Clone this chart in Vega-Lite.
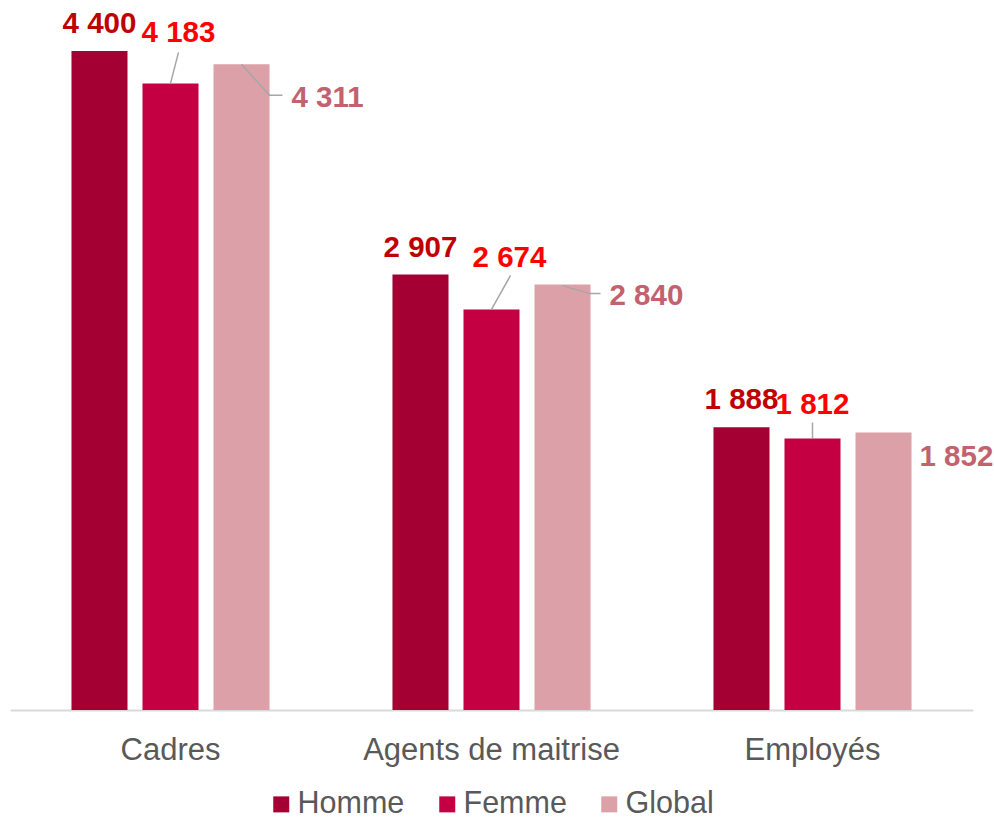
{
  "$schema": "https://vega.github.io/schema/vega-lite/v6.json",
  "autosize": "none",
  "width": 963,
  "height": 710,
  "padding": {"left": 10, "top": 0, "right": 21, "bottom": 112},
  "background": "white",
  "config": {
    "view": {"stroke": null},
    "font": "Liberation Sans",
    "locale": {"number": {"decimal": ",", "thousands": " ", "grouping": [3], "currency": ["", " €"]}}
  },
  "data": {
    "values": [
      {"cat": "Cadres", "serie": "Homme", "v": 4400},
      {"cat": "Cadres", "serie": "Femme", "v": 4183},
      {"cat": "Cadres", "serie": "Global", "v": 4311},
      {"cat": "Agents de maitrise", "serie": "Homme", "v": 2907},
      {"cat": "Agents de maitrise", "serie": "Femme", "v": 2674},
      {"cat": "Agents de maitrise", "serie": "Global", "v": 2840},
      {"cat": "Employés", "serie": "Homme", "v": 1888},
      {"cat": "Employés", "serie": "Femme", "v": 1812},
      {"cat": "Employés", "serie": "Global", "v": 1852}
    ]
  },
  "encoding": {
    "x": {
      "field": "cat", "type": "nominal", "sort": ["Cadres", "Agents de maitrise", "Employés"],
      "scale": {"paddingInner": 0.383, "paddingOuter": 0.1915},
      "axis": {"title": null, "labelAngle": 0, "ticks": false, "labelFontSize": 31, "labelColor": "#595959", "labelPadding": 25, "labelLimit": 0, "domainColor": "#D9D9D9", "domainWidth": 2}
    },
    "xOffset": {
      "field": "serie", "type": "nominal", "sort": ["Homme", "Femme", "Global"],
      "scale": {"paddingInner": 0.211, "paddingOuter": 0}
    },
    "y": {"field": "v", "type": "quantitative", "scale": {"domain": [0, 4740], "nice": false}, "axis": null}
  },
  "layer": [
    {
      "mark": {"type": "bar"},
      "encoding": {
        "color": {
          "field": "serie", "type": "nominal",
          "scale": {"domain": ["Homme", "Femme", "Global"], "range": ["#A50034", "#C40042", "#DCA1A8"]},
          "legend": {"title": null, "orient": "none", "legendX": 256, "legendY": 789, "direction": "horizontal", "symbolType": "square", "symbolSize": 256, "symbolStrokeWidth": 0, "labelFontSize": 30.5, "labelColor": "#595959", "labelOffset": 1, "labelLimit": 0, "columnPadding": 27}
        }
      }
    },
    {
      "transform": [{"filter": "datum.serie === 'Homme'"}],
      "mark": {"type": "text", "align": "center", "baseline": "alphabetic", "dy": -18, "fontSize": 29.5, "fontWeight": "bold", "color": "#C00000"},
      "encoding": {"text": {"field": "v", "type": "quantitative", "format": ","}}
    },
    {
      "transform": [{"filter": "datum.serie === 'Femme' && datum.cat === 'Cadres'"}],
      "mark": {"type": "text", "align": "center", "baseline": "alphabetic", "dx": 8, "dy": -41.5, "fontSize": 29.5, "fontWeight": "bold", "color": "#FF0000"},
      "encoding": {"text": {"field": "v", "type": "quantitative", "format": ","}}
    },
    {
      "transform": [{"filter": "datum.serie === 'Femme' && datum.cat === 'Agents de maitrise'"}],
      "mark": {"type": "text", "align": "center", "baseline": "alphabetic", "dx": 18, "dy": -42.5, "fontSize": 29.5, "fontWeight": "bold", "color": "#FF0000"},
      "encoding": {"text": {"field": "v", "type": "quantitative", "format": ","}}
    },
    {
      "transform": [{"filter": "datum.serie === 'Femme' && datum.cat === 'Employés'"}],
      "mark": {"type": "text", "align": "center", "baseline": "alphabetic", "dx": 0, "dy": -25, "fontSize": 29.5, "fontWeight": "bold", "color": "#FF0000"},
      "encoding": {"text": {"field": "v", "type": "quantitative", "format": ","}}
    },
    {
      "transform": [{"filter": "datum.serie === 'Global' && datum.cat === 'Cadres'"}],
      "mark": {"type": "text", "align": "left", "baseline": "alphabetic", "dx": 50, "dy": 43, "fontSize": 29.5, "fontWeight": "bold", "color": "#C2626E"},
      "encoding": {"text": {"field": "v", "type": "quantitative", "format": ","}}
    },
    {
      "transform": [{"filter": "datum.serie === 'Global' && datum.cat === 'Agents de maitrise'"}],
      "mark": {"type": "text", "align": "left", "baseline": "alphabetic", "dx": 47, "dy": 20, "fontSize": 29.5, "fontWeight": "bold", "color": "#C2626E"},
      "encoding": {"text": {"field": "v", "type": "quantitative", "format": ","}}
    },
    {
      "transform": [{"filter": "datum.serie === 'Global' && datum.cat === 'Employés'"}],
      "mark": {"type": "text", "align": "left", "baseline": "alphabetic", "dx": 36, "dy": 33, "fontSize": 29.5, "fontWeight": "bold", "color": "#C2626E"},
      "encoding": {"text": {"field": "v", "type": "quantitative", "format": ","}}
    },
    {
      "transform": [{"filter": "datum.serie === 'Femme' && datum.cat === 'Cadres'"}],
      "mark": {"type": "point", "shape": "M0,0L8,-31", "size": 4, "filled": false, "stroke": "#A6A6A6", "strokeWidth": 1.5, "opacity": 1},
      "encoding": {}
    },
    {
      "transform": [{"filter": "datum.serie === 'Femme' && datum.cat === 'Agents de maitrise'"}],
      "mark": {"type": "point", "shape": "M0,0L19,-34", "size": 4, "filled": false, "stroke": "#A6A6A6", "strokeWidth": 1.5, "opacity": 1},
      "encoding": {}
    },
    {
      "transform": [{"filter": "datum.serie === 'Femme' && datum.cat === 'Employés'"}],
      "mark": {"type": "point", "shape": "M0,0L0,-16", "size": 4, "filled": false, "stroke": "#A6A6A6", "strokeWidth": 1.5, "opacity": 1},
      "encoding": {}
    },
    {
      "transform": [{"filter": "datum.serie === 'Global' && datum.cat === 'Cadres'"}],
      "mark": {"type": "point", "shape": "M0,0L28,31L41,31", "size": 4, "filled": false, "stroke": "#A6A6A6", "strokeWidth": 1.5, "opacity": 1},
      "encoding": {}
    },
    {
      "transform": [{"filter": "datum.serie === 'Global' && datum.cat === 'Agents de maitrise'"}],
      "mark": {"type": "point", "shape": "M0,1L27,9L38,9", "size": 4, "filled": false, "stroke": "#A6A6A6", "strokeWidth": 1.5, "opacity": 1},
      "encoding": {}
    }
  ]
}
